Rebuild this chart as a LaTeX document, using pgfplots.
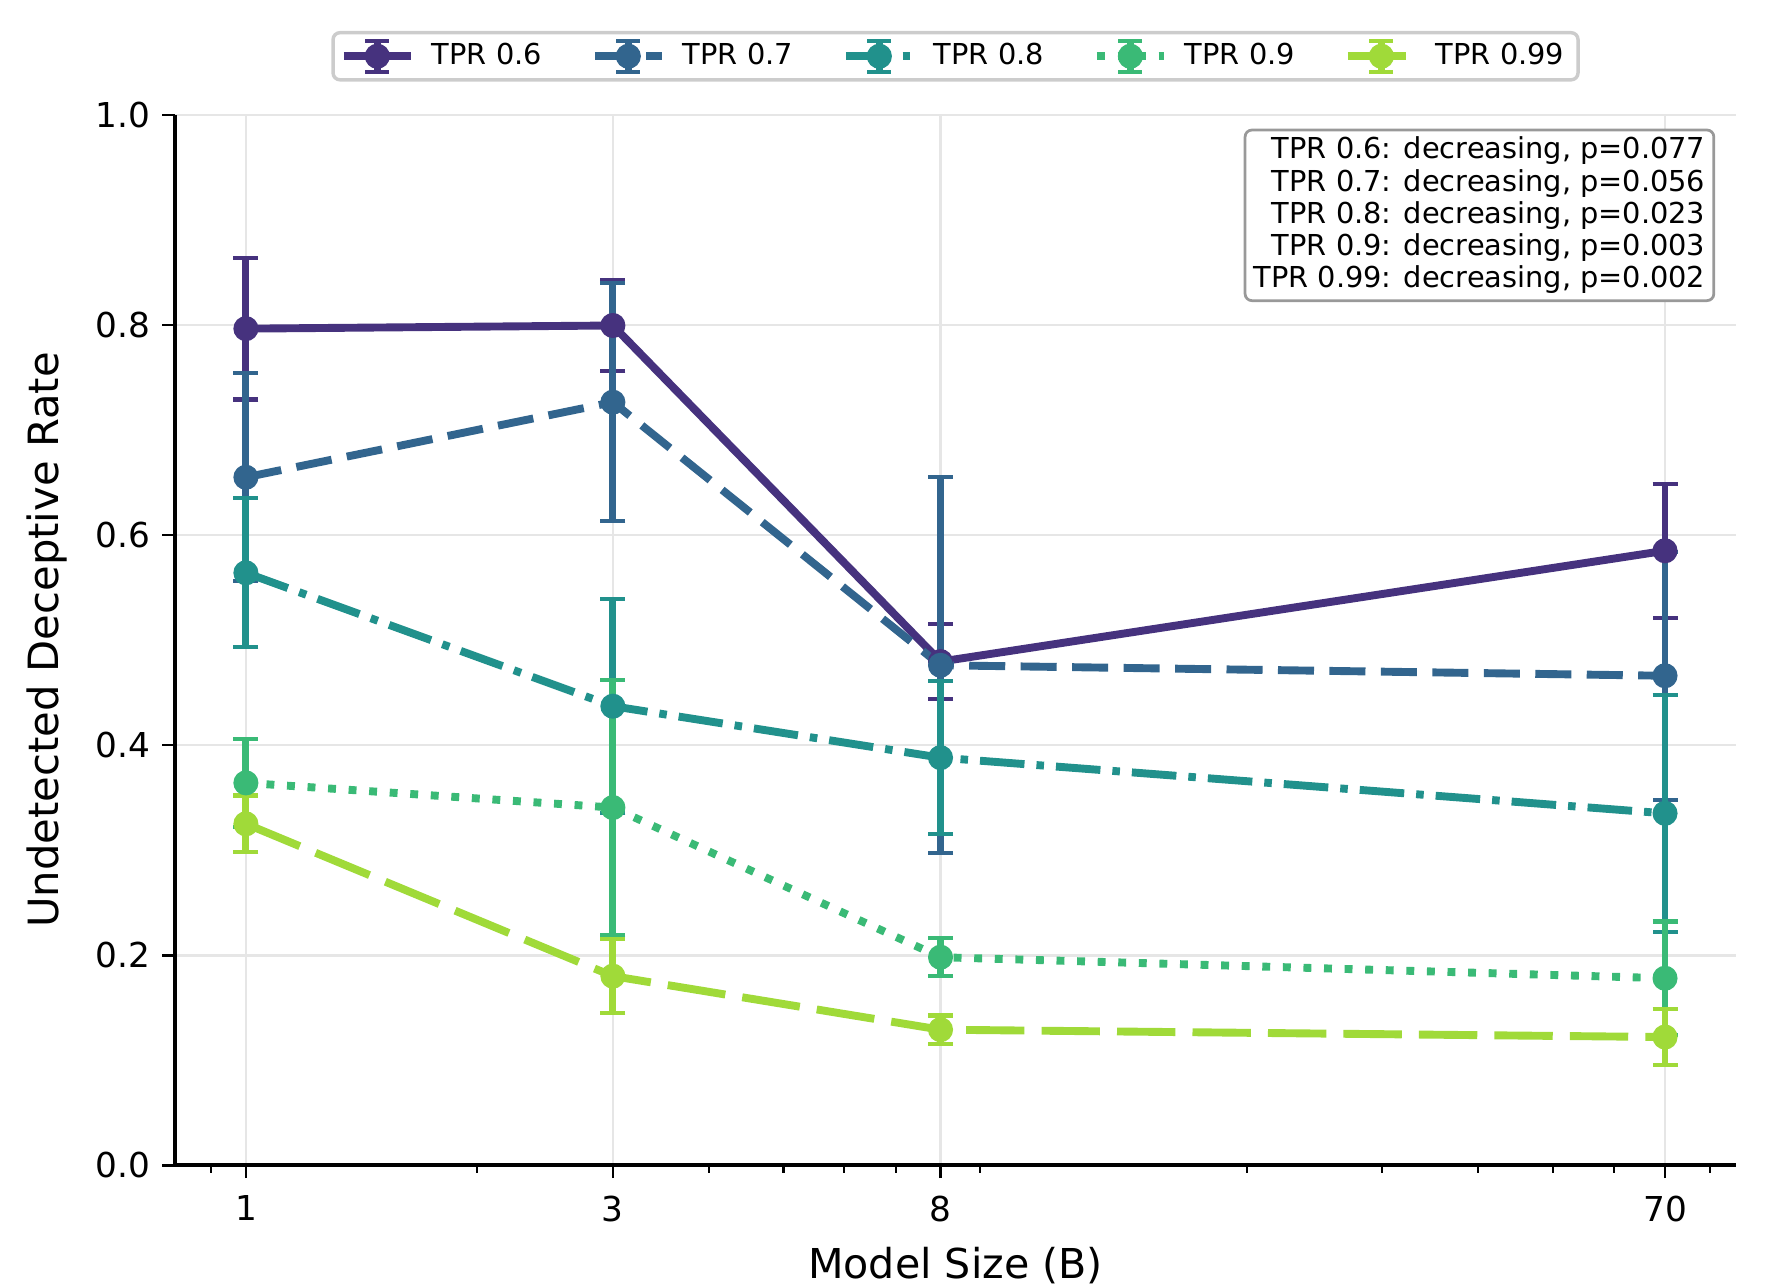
\documentclass[border=0pt]{standalone}
\usepackage{fontspec}
\setmainfont{DejaVu Sans}
\usepackage{pgfplots}
\pgfplotsset{compat=1.18}

\definecolor{tprA}{HTML}{46327E}
\definecolor{tprB}{HTML}{32658E}
\definecolor{tprC}{HTML}{21918C}
\definecolor{tprD}{HTML}{3ABA76}
\definecolor{tprE}{HTML}{A0DA39}
\definecolor{gridgray}{HTML}{E6E6E6}

\pgfplotsset{
  errline/.style={
    line width=2.3pt, line join=round,
    mark=*, mark size=3.25pt, mark options={solid, line width=0.8pt},
    error bars/.cd, y dir=both, y explicit,
    error bar style={solid, line width=2pt},
    error mark options={rotate=90, solid, line width=1.2pt, mark size=3.65pt},
  },
}

\begin{document}
\begin{tikzpicture}
\begin{axis}[
  scale only axis,
  width=455pt, height=306.1pt,
  xmode=log,
  xmin=0.8087, xmax=86.6,
  ymin=0, ymax=1,
  axis x line*=bottom, axis y line*=left,
  axis line style={-, line width=1pt},
  xtick={1,3,8,70}, xticklabels={1,3,8,70},
  minor xtick={0.9,2,4,5,6,7,9,20,30,40,50,60,80},
  ytick={0,0.2,0.4,0.6,0.8,1.0},
  yticklabel style={/pgf/number format/.cd, fixed, fixed zerofill, precision=1},
  xticklabel style={yshift=-1.6pt},
  /pgf/number format/assume math mode=true,
  tick label style={font=\fontsize{10}{12}\selectfont},
  tick align=outside,
  major tick length=3.8pt, minor tick length=2.2pt,
  every tick/.style={black, line width=0.8pt},
  every minor tick/.append style={line width=0.6pt},
  grid=major,
  major grid style={gridgray, line width=0.8pt},
  xlabel={Model Size (B)},
  ylabel={Undetected Deceptive Rate},
  every axis x label/.style={at={(axis description cs:0.5,0)}, anchor=base, yshift=-32.9pt, font=\fontsize{12}{14}\selectfont},
  every axis y label/.style={at={(axis description cs:-0.0817,0.5)}, rotate=90, anchor=center, font=\fontsize{12.15}{14}\selectfont},
  legend columns=5,
  legend image code/.code={
    \draw (0pt,0pt) -- (19.5pt,0pt);
    \draw[solid, line width=2pt] (9.75pt,-4.5pt) -- (9.75pt,4.5pt);
    \draw[solid, line width=1.2pt] (6.25pt,4.5pt) -- (13.25pt,4.5pt) (6.25pt,-4.5pt) -- (13.25pt,-4.5pt);
    \path plot[only marks] coordinates {(9.75pt,0pt)};
  },
  legend style={
    at={(0.5,1.0318)}, anchor=south,
    draw=black!20, line width=1pt, rounded corners=2pt, fill=white,
    font=\fontsize{8.4}{9.6}\selectfont,
    inner xsep=2pt, inner ysep=1pt,
    /tikz/every odd column/.append style={column sep=3pt},
    /tikz/every even column/.append style={column sep=12.3pt},
  },
]

\addplot[tprA, solid, errline] table[x=x, y=y, y error=e] {
x  y      e
1  0.7965 0.0675
3  0.7995 0.0435
8  0.4795 0.0355
70 0.585  0.064
};
\addlegendentry{TPR 0.6}

\addplot[tprB, dash pattern=on 10.5pt off 4.5pt, errline] table[x=x, y=y, y error=e] {
x  y      e
1  0.655  0.099
3  0.7265 0.1135
8  0.476  0.179
70 0.466  0.118
};
\addlegendentry{TPR 0.7}

\addplot[tprC, dash pattern=on 13pt off 3.5pt on 2.2pt off 3.5pt, errline] table[x=x, y=y, y error=e] {
x  y      e
1  0.564  0.071
3  0.437  0.102
8  0.388  0.073
70 0.335  0.113
};
\addlegendentry{TPR 0.8}

\addplot[tprD, dash pattern=on 2.3pt off 3.7pt, errline] table[x=x, y=y, y error=e] {
x  y      e
1  0.364  0.042
3  0.3405 0.1215
8  0.198  0.018
70 0.178  0.054
};
\addlegendentry{TPR 0.9}

\addplot[tprE, dash pattern=on 17pt off 5pt, errline] table[x=x, y=y, y error=e] {
x  y      e
1  0.325  0.027
3  0.180  0.035
8  0.129  0.0135
70 0.122  0.027
};
\addlegendentry{TPR 0.99}

% trend test summary
\node[anchor=north east, draw=black!40, line width=0.8pt, rounded corners=2pt,
      fill=white, align=right, font=\fontsize{8.4}{9.4}\selectfont,
      inner xsep=2.5pt, inner ysep=2pt]
  at ([xshift=-6.1pt,yshift=-4pt]rel axis cs:1,1)
  {TPR 0.6: decreasing, p=0.077\\
   TPR 0.7: decreasing, p=0.056\\
   TPR 0.8: decreasing, p=0.023\\
   TPR 0.9: decreasing, p=0.003\\
   TPR 0.99: decreasing, p=0.002};
\end{axis}
\pgfresetboundingbox
\path[use as bounding box] (-51pt,-34.7pt) rectangle (464.3pt,339.6pt);
\end{tikzpicture}
\end{document}
